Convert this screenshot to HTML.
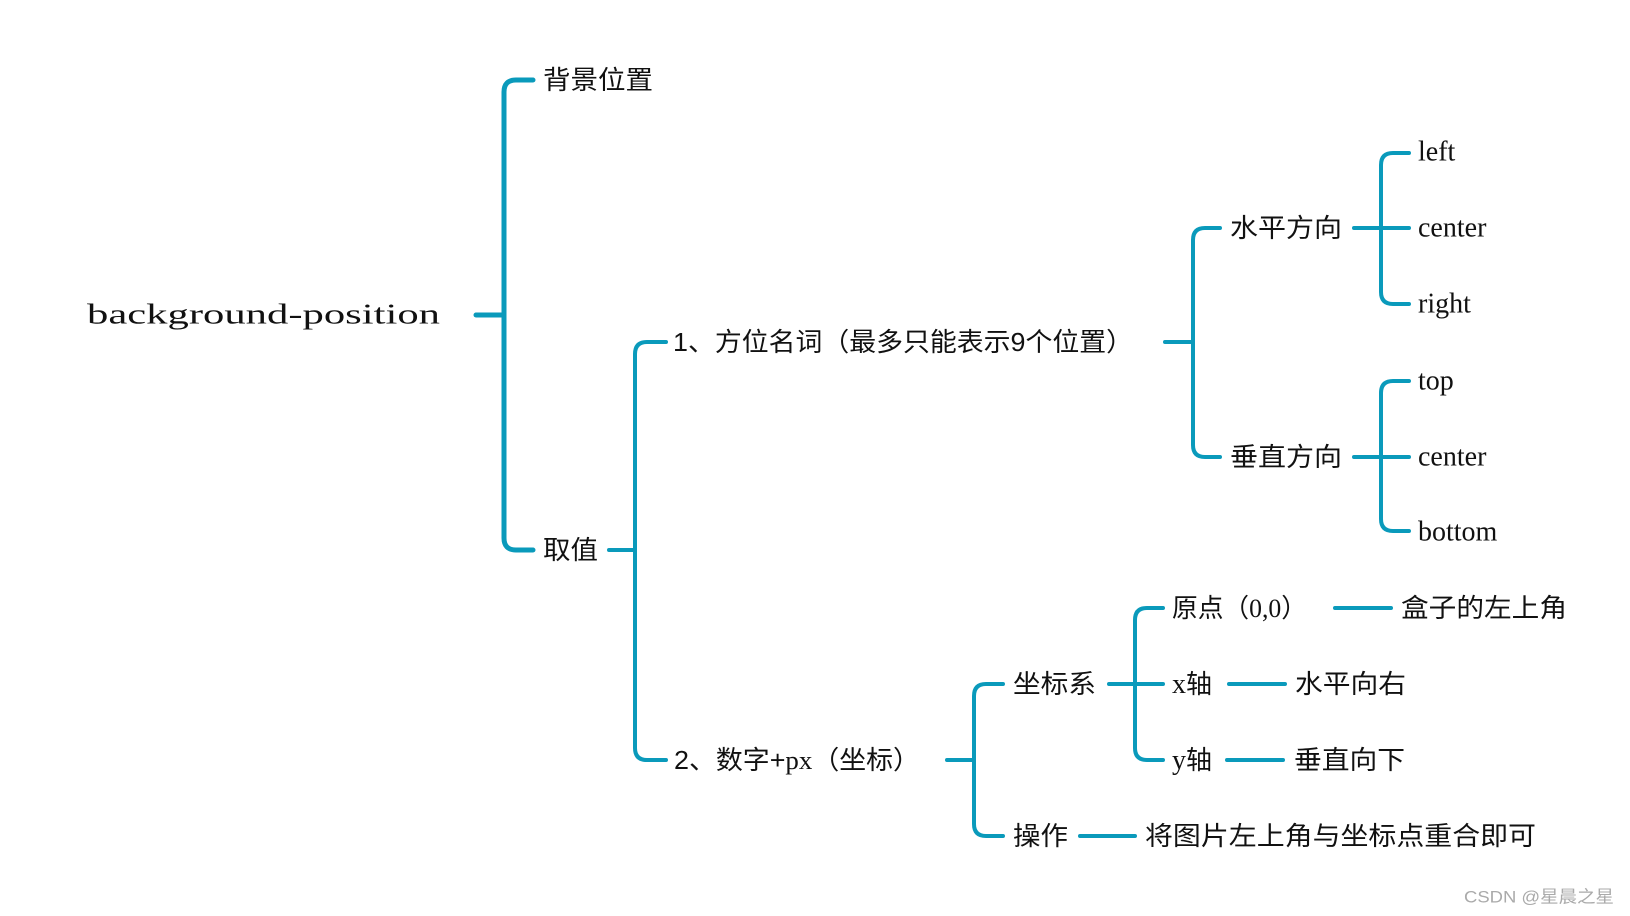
<!DOCTYPE html>
<html><head><meta charset="utf-8"><style>
html,body{margin:0;padding:0;background:#fff;}
svg{display:block;}
text{fill:#111;dominant-baseline:central;}
.c{font-family:"Liberation Sans","Noto Sans CJK SC",sans-serif;font-size:26px;}
.s{font-family:"Liberation Serif","Noto Serif CJK SC",serif;font-size:28px;}
</style></head><body>
<svg width="1630" height="916" viewBox="0 0 1630 916" xmlns="http://www.w3.org/2000/svg">
<g fill="none" stroke="#0a9abb" stroke-width="4" stroke-linecap="round" stroke-linejoin="round">
<path d="M476 315H504" stroke-width="5"/>
<path d="M533 80H516Q504 80 504 92V538Q504 550 516 550H533" stroke-width="5"/>
<path d="M609 550H635"/>
<path d="M666 342H647Q635 342 635 354V748Q635 760 647 760H666"/>
<path d="M1165 342H1193"/>
<path d="M1220 228H1205Q1193 228 1193 240V445Q1193 457 1205 457H1220"/>
<path d="M1354 228H1409"/>
<path d="M1409 153H1393Q1381 153 1381 165V292Q1381 304 1393 304H1409"/>
<path d="M1354 457H1409"/>
<path d="M1409 381H1393Q1381 381 1381 393V519Q1381 531 1393 531H1409"/>
<path d="M947 760H974"/>
<path d="M1003 684H986Q974 684 974 696V824Q974 836 986 836H1003"/>
<path d="M1109 684H1163"/>
<path d="M1163 608H1147Q1135 608 1135 620V748Q1135 760 1147 760H1163"/>
<path d="M1335 608H1391"/>
<path d="M1229 684H1285"/>
<path d="M1227 760H1283"/>
<path d="M1080 836H1135"/>
</g>
<text class="s" x="87" y="315" font-size="37" textLength="353" lengthAdjust="spacingAndGlyphs">background-position</text>
<text class="c" x="543" y="80" textLength="110" lengthAdjust="spacingAndGlyphs">背景位置</text>
<text class="c" x="543" y="550" textLength="55" lengthAdjust="spacingAndGlyphs">取值</text>
<text class="c" x="673" y="342" textLength="460" lengthAdjust="spacingAndGlyphs">1、方位名词（最多只能表示9个位置）</text>
<text class="c" x="1230" y="228" textLength="112" lengthAdjust="spacingAndGlyphs">水平方向</text>
<text class="c" x="1230" y="457" textLength="112" lengthAdjust="spacingAndGlyphs">垂直方向</text>
<text class="s" x="1418" y="152">left</text>
<text class="s" x="1418" y="228">center</text>
<text class="s" x="1418" y="304">right</text>
<text class="s" x="1418" y="381">top</text>
<text class="s" x="1418" y="457">center</text>
<text class="s" x="1418" y="532">bottom</text>
<text class="c" x="674" y="760" textLength="246" lengthAdjust="spacingAndGlyphs">2、数字+<tspan font-family="Liberation Serif, serif">px</tspan>（坐标）</text>
<text class="c" x="1013" y="684" textLength="83" lengthAdjust="spacingAndGlyphs">坐标系</text>
<text class="c" x="1013" y="836" textLength="55" lengthAdjust="spacingAndGlyphs">操作</text>
<text class="c" x="1172" y="608" textLength="135" lengthAdjust="spacingAndGlyphs">原点（<tspan font-family="Liberation Serif, serif">0,0</tspan>）</text>
<text class="c" x="1401" y="608" textLength="166" lengthAdjust="spacingAndGlyphs">盒子的左上角</text>
<text class="c" x="1172" y="684"><tspan font-family="Liberation Serif, serif" font-size="28">x</tspan>轴</text>
<text class="c" x="1295" y="684" textLength="111" lengthAdjust="spacingAndGlyphs">水平向右</text>
<text class="c" x="1172" y="760"><tspan font-family="Liberation Serif, serif" font-size="28">y</tspan>轴</text>
<text class="c" x="1294" y="760" textLength="111" lengthAdjust="spacingAndGlyphs">垂直向下</text>
<text class="c" x="1145" y="836" textLength="391" lengthAdjust="spacingAndGlyphs">将图片左上角与坐标点重合即可</text>
<text x="1464" y="897" style="font-family:'Liberation Sans','Noto Sans CJK SC',sans-serif;font-size:17px;fill:#aaa" textLength="150" lengthAdjust="spacingAndGlyphs">CSDN @星晨之星</text>
</svg>
</body></html>
